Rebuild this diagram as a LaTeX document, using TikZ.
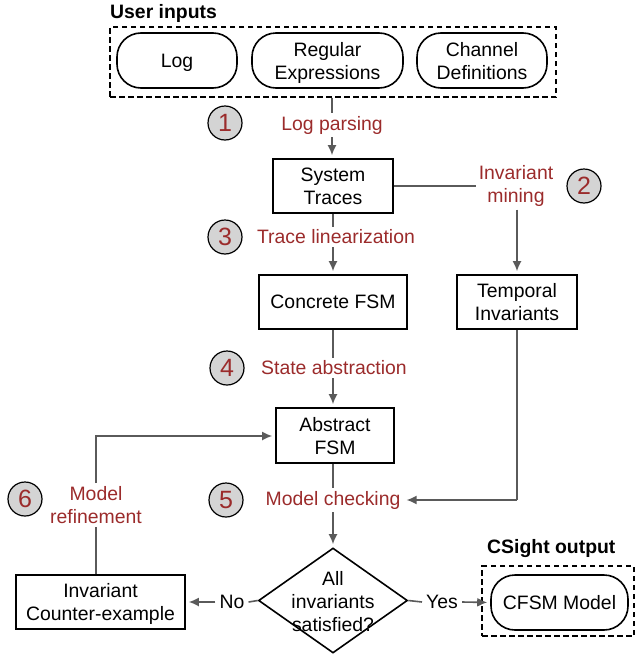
\documentclass[tikz,border=0pt]{standalone}
\usepackage{fontspec}
\setmainfont{Liberation Sans}
\usetikzlibrary{shapes.geometric,arrows.meta}
\definecolor{lblred}{HTML}{9B2B2B}
\definecolor{linegray}{HTML}{5A5A5A}
\definecolor{circfill}{HTML}{D4D4D4}
\tikzset{
  txt/.style={font=\fontsize{19.4}{23}\selectfont, align=center},
  box/.style={txt, draw=black, line width=1.6pt, fill=white, inner sep=0pt, text depth=0pt},
  pill/.style={box, rounded corners=24pt},
  steplbl/.style={txt, text=lblred, inner sep=3pt},
  plainlbl/.style={txt, text=black, inner sep=4pt},
  numcirc/.style={circle, draw=black, line width=1.2pt, fill=circfill, minimum size=34pt, inner sep=0pt, text=lblred, font=\fontsize{25}{25}\selectfont},
  conn/.style={draw=linegray, line width=1.6pt},
  arr/.style={conn, -{Latex[length=10pt,width=9pt]}, shorten >=3pt},
  dashbox/.style={draw=black, line width=1.4pt, dash pattern=on 5.5pt off 3.5pt},
  ttl/.style={font=\fontsize{19.4}{23}\selectfont\bfseries, inner sep=0pt}
}
\begin{document}
\begin{tikzpicture}[x=1pt,y=-1pt]
\useasboundingbox (0,0) rectangle (636,656);
% user inputs
\node[ttl, anchor=west] (uititle) at (110,13) {User inputs};
\node[dashbox, minimum width=446pt, minimum height=70pt, inner sep=0pt] (inputs) at (333,62) {};
\node[pill, minimum width=120pt, minimum height=55pt] (log) at (177,60.5) {Log};
\node[pill, minimum width=151pt, minimum height=55pt] (regex) at (327.5,60.5) {Regular\\Expressions};
\node[pill, minimum width=130pt, minimum height=55pt] (chan) at (482,60.5) {Channel\\Definitions};

% main column
\node[steplbl] (lp) at (332,125) {Log parsing};
\node[numcirc] (c1) at (225,123) {1};
\node[box, minimum width=120pt, minimum height=54pt] (traces) at (333,186) {System\\Traces};
\node[steplbl] (tl) at (336,237) {Trace linearization};
\node[numcirc] (c3) at (225,237) {3};
\node[box, minimum width=148pt, minimum height=54pt] (conc) at (333,302) {Concrete FSM};
\node[steplbl] (sa) at (334,368) {State abstraction};
\node[numcirc] (c4) at (227,368) {4};
\node[box, minimum width=118pt, minimum height=55pt] (abs) at (335,435.5) {Abstract\\FSM};
\node[steplbl] (mc) at (333,500) {Model checking};
\node[numcirc] (c5) at (226,500) {5};
\node[diamond, draw=black, line width=1.6pt, fill=white, minimum width=149pt, minimum height=105pt, inner sep=0pt] (dia) at (333,600.5) {};
\node[txt] (diatxt) at (333,602) {All\\invariants\\satisfied?};

% right column
\node[steplbl] (im) at (516,186) {Invariant\\mining};
\node[numcirc] (c2) at (584,186) {2};
\node[box, minimum width=120pt, minimum height=54pt] (temp) at (517,302) {Temporal\\Invariants};
\coordinate (tcorner) at (517,500);

% left column
\node[box, minimum width=169pt, minimum height=54pt] (cex) at (100.5,602) {Invariant\\Counter-example};
\node[steplbl] (mr) at (96,505) {Model\\refinement};
\node[numcirc] (c6) at (25,499) {6};
\coordinate (fbcorner) at (96,436);

% outputs
\node[plainlbl] (no) at (232,602) {No};
\node[plainlbl] (yes) at (442,602) {Yes};
\node[ttl, anchor=west] (outtitle) at (487,549) {CSight output};
\node[dashbox, minimum width=152pt, minimum height=70pt, inner sep=0pt] (outbox) at (558,601) {};
\node[pill, minimum width=137pt, minimum height=55pt] (cfsm) at (559.5,602.5) {CFSM Model};

% connectors
\draw[conn] (inputs.south -| lp) -- (lp.north);
\draw[arr] (lp.south) -- (traces.north -| lp);
\draw[conn] (traces.south) -- (tl.north -| traces);
\draw[arr] (tl.south -| traces) -- (conc.north);
\draw[conn] (conc.south) -- (sa.north -| conc);
\draw[arr] (sa.south -| conc) -- (conc.south |- abs.north);
\draw[conn] (abs.south -| dia) -- (mc.north -| dia);
\draw[arr] (mc.south -| dia) -- (dia.north);
\draw[conn] (traces.east) -- (traces.east -| im.west);
\draw[arr] (im.south -| temp) -- (temp.north);
\draw[conn] (temp.south) -- (tcorner);
\draw[arr] (tcorner) -- (mc.east);
\draw[conn] (dia.west) -- (no.east);
\draw[arr] (no.west) -- (cex.east);
\draw[conn] (dia.east) -- (yes.west);
\draw[arr] (yes.east) -- (cfsm.west);
\draw[conn] (cex.north -| mr) -- (mr.south);
\draw[arr] (mr.north) -- (fbcorner) -- (abs.west |- fbcorner);
\end{tikzpicture}
\end{document}
